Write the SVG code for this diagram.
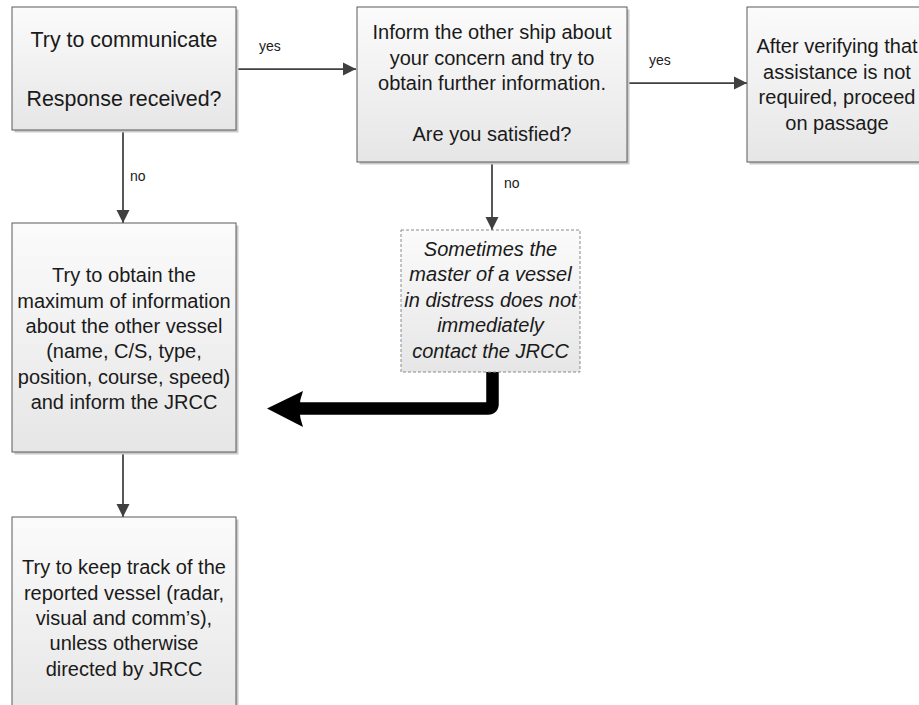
<svg xmlns="http://www.w3.org/2000/svg" width="919" height="705" viewBox="0 0 919 705">
<defs>
<linearGradient id="g" x1="0" y1="0" x2="0" y2="1">
<stop offset="0" stop-color="#fbfbfb"/>
<stop offset="1" stop-color="#e6e6e6"/>
</linearGradient>
<marker id="ah" markerUnits="userSpaceOnUse" markerWidth="14" markerHeight="14" viewBox="0 0 14 14" refX="13" refY="7" orient="auto">
<path d="M0,0.5 L13,7 L0,13.5 Z" fill="#404040"/>
</marker>
<style>
.box{fill:url(#g);stroke:#5a5a5a;stroke-width:1}
.shadow{fill:#c9c9c9}
.dash{fill:url(#g);stroke:#8a8a8a;stroke-width:1;stroke-dasharray:3 2}
.t{font-family:"Liberation Sans",Arial,sans-serif;font-size:20px;fill:#1a1a1a;text-anchor:middle}
.big{font-size:21.4px}
.it{font-style:italic}
.lbl{font-family:"Liberation Sans",Arial,sans-serif;font-size:14px;fill:#1a1a1a}
.con{fill:none;stroke:#404040;stroke-width:1.75;marker-end:url(#ah)}
</style>
</defs>
<rect width="919" height="705" fill="#ffffff"/>

<g id="connectors">
<path class="con" d="M236,69 H356"/>
<path class="con" d="M627,83 H747"/>
<path class="con" d="M123,130 V223"/>
<path class="con" d="M492,162 V230"/>
<path class="con" d="M123,452 V517"/>
<path d="M492.5,370 V404 Q492.5,408.5 488,408.5 H298" fill="none" stroke="#000" stroke-width="12.5" stroke-linecap="round"/>
<path d="M267,408.5 L303,391 Q296,408.5 303,427 Z" fill="#000"/>
<text class="lbl" x="259" y="51">yes</text>
<text class="lbl" x="649" y="65">yes</text>
<text class="lbl" x="130" y="181">no</text>
<text class="lbl" x="504" y="188">no</text>
</g>

<g id="n1">
<rect class="shadow" x="14.5" y="9.5" width="224" height="123"/>
<rect class="box" x="12" y="7" width="224" height="123"/>
<text class="t big" x="124" y="47">Try to communicate</text>
<text class="t big" x="124" y="106">Response received?</text>
</g>

<g id="n2">
<rect class="shadow" x="359.5" y="9.5" width="270" height="155"/>
<rect class="box" x="357" y="7" width="270" height="155"/>
<text class="t" x="492" y="39">Inform the other ship about</text>
<text class="t" x="492" y="64.5">your concern and try to</text>
<text class="t" x="492" y="90">obtain further information.</text>
<text class="t" x="492" y="141">Are you satisfied?</text>
</g>

<g id="n3">
<rect class="shadow" x="749.5" y="9.5" width="180" height="155"/>
<rect class="box" x="747" y="7" width="180" height="155"/>
<text class="t" x="837" y="53">After verifying that</text>
<text class="t" x="837" y="78.5">assistance is not</text>
<text class="t" x="837" y="104">required, proceed</text>
<text class="t" x="837" y="129.5">on passage</text>
</g>

<g id="n4">
<rect class="shadow" x="14.5" y="225.5" width="224" height="229"/>
<rect class="box" x="12" y="223" width="224" height="229"/>
<text class="t" x="124" y="282">Try to obtain the</text>
<text class="t" x="124" y="307.5">maximum of information</text>
<text class="t" x="124" y="333">about the other vessel</text>
<text class="t" x="124" y="358">(name, C/S, type,</text>
<text class="t" x="124" y="383.5">position, course, speed)</text>
<text class="t" x="124" y="409">and inform the JRCC</text>
</g>

<g id="n5">
<rect class="shadow" x="14.5" y="519.5" width="224" height="200"/>
<rect class="box" x="12" y="517" width="224" height="200"/>
<text class="t" x="124" y="574">Try to keep track of the</text>
<text class="t" x="124" y="599.5">reported vessel (radar,</text>
<text class="t" x="124" y="625">visual and comm’s),</text>
<text class="t" x="124" y="650">unless otherwise</text>
<text class="t" x="124" y="675.5">directed by JRCC</text>
</g>

<g id="n6">
<rect class="dash" x="401" y="230" width="179" height="142"/>
<text class="t it" x="490.5" y="255.5">Sometimes the</text>
<text class="t it" x="490.5" y="281">master of a vessel</text>
<text class="t it" x="490.5" y="306.5">in distress does not</text>
<text class="t it" x="490.5" y="332">immediately</text>
<text class="t it" x="490.5" y="357.5">contact the JRCC</text>
</g>
</svg>
